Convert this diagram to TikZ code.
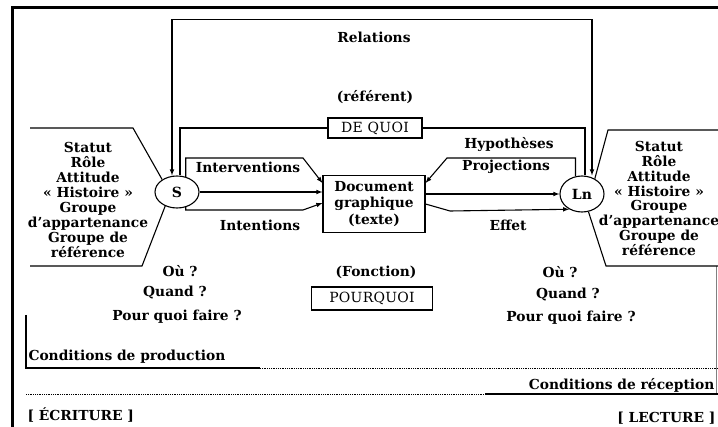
\documentclass[tikz,border=0pt]{standalone}
\usepackage{fontspec}
\setmainfont{DejaVu Serif}
\newfontfamily\boxfont[LetterSpace=2]{DejaVu Serif}
\usetikzlibrary{shapes.geometric}
\begin{document}
\begin{tikzpicture}[x=1pt,y=-1pt,>=latex,line width=1.1pt,
  lbl/.style={font=\fontsize{13.8}{14.9}\selectfont\bfseries},
  boxtext/.style={draw,font=\fontsize{14}{15}\selectfont\boxfont,inner sep=2pt},
  person/.style={ellipse,draw,minimum width=44pt,minimum height=32pt,inner sep=0pt,font=\fontsize{14}{15}\selectfont\bfseries}]
\useasboundingbox (0,0) rectangle (718,427);
\draw [line width=3pt] (12,430) -- (12,8) -- (720,8);
\draw [gray, line width=0.6pt] (716,266) -- (716,395);
% partners
\node [person] (S) at (177,192) {S};
\node [person, minimum height=36pt] (Ln) at (582,194) {Ln};
\node [boxtext, minimum width=94pt, minimum height=20pt] (dequoi) at (375,128) {DE QUOI};
\node [draw, lbl, align=center, font=\fontsize{13.8}{16.8}\selectfont\bfseries, minimum width=102pt, minimum height=57pt] (doc) at (374,204) {Document\\graphique\\(texte)};
\node [boxtext, minimum width=121pt, minimum height=23pt] (pourquoi) at (372,298.5) {POURQUOI};
\node [lbl] (relations) at (374,37) {Relations};
\node [lbl] (referent) at (375,97) {(référent)};
\node [lbl] (fonction) at (376,272) {(Fonction)};
\node [lbl] (interv) at (248,167) {Interventions};
\node [lbl] (intent) at (260,225) {Intentions};
\node [lbl] (hypo) at (509,145) {Hypothèses};
\node [lbl] (proj) at (506,167) {Projections};
\node [lbl] (effet) at (508,225) {Effet};
\node [lbl, align=center] (attrS) at (88,200) {Statut\\Rôle\\Attitude\\«~Histoire~»\\Groupe\\d'appartenance\\Groupe de\\référence};
\node [lbl, align=center] (attrLn) at (659,198.5) {Statut\\Rôle\\Attitude\\«~Histoire~»\\Groupe\\d'appartenance\\Groupe de\\référence};
\node [lbl] (ouS) at (180,271) {Où ?};
\node [lbl] (quandS) at (175,293) {Quand ?};
\node [lbl] (faireS) at (177,317) {Pour quoi faire ?};
\node [lbl] (ouLn) at (560,272) {Où ?};
\node [lbl] (quandLn) at (568,295) {Quand ?};
\node [lbl] (faireLn) at (571,318) {Pour quoi faire ?};
% relations loop and referent
\draw [<->] ([xshift=-5pt]S.north) -- ++(0,-156) -| ([xshift=10pt]Ln.north);
\draw ([xshift=3pt]S.north) |- (dequoi.west);
\draw (dequoi.east) -| ([xshift=3pt]Ln.north);
% S to document
\draw [->] (S.60) |- (303,158) -- ([yshift=9pt]doc.west |- S);
\draw [->] (S) -- (doc.west |- S);
\draw [->] (S.-60) |- (303,210) -- ([yshift=-11pt]doc.west |- S);
% document to Ln
\draw [->] (Ln.110) |- (447,158) -- ([yshift=9pt]doc.east |- S);
\draw [->] (doc.east |- Ln) -- (Ln);
\draw [->] (doc.east) -- (450,211) -- (Ln.-130);
% brackets
\draw (30,128) -- (133,128) -- (S.140);
\draw (S.-130) -- (142,266) -- (30,266);
\draw (Ln.50) -- (608,130) -- (720,130);
\draw (Ln.-70) -- (606,266) -- (720,266);
% conditions
\draw (26,315) -- (26,368) -- (260,368);
\draw [densely dotted, line width=0.8pt] (260,368) -- (718,368);
\draw [densely dotted, line width=0.8pt] (26,394) -- (485,394);
\draw (485,394) -- (718,394);
\node [lbl, anchor=west, inner sep=1pt] (prod) at (27,357) {Conditions de production};
\node [lbl, anchor=east, inner sep=1pt] (recep) at (716,385) {Conditions de réception};
\node [lbl, anchor=west, inner sep=1pt] (ecriture) at (26,415) {[ ÉCRITURE ]};
\node [lbl, anchor=east, inner sep=1pt] (lecture) at (717,418) {[ LECTURE ]};
\end{tikzpicture}
\end{document}
